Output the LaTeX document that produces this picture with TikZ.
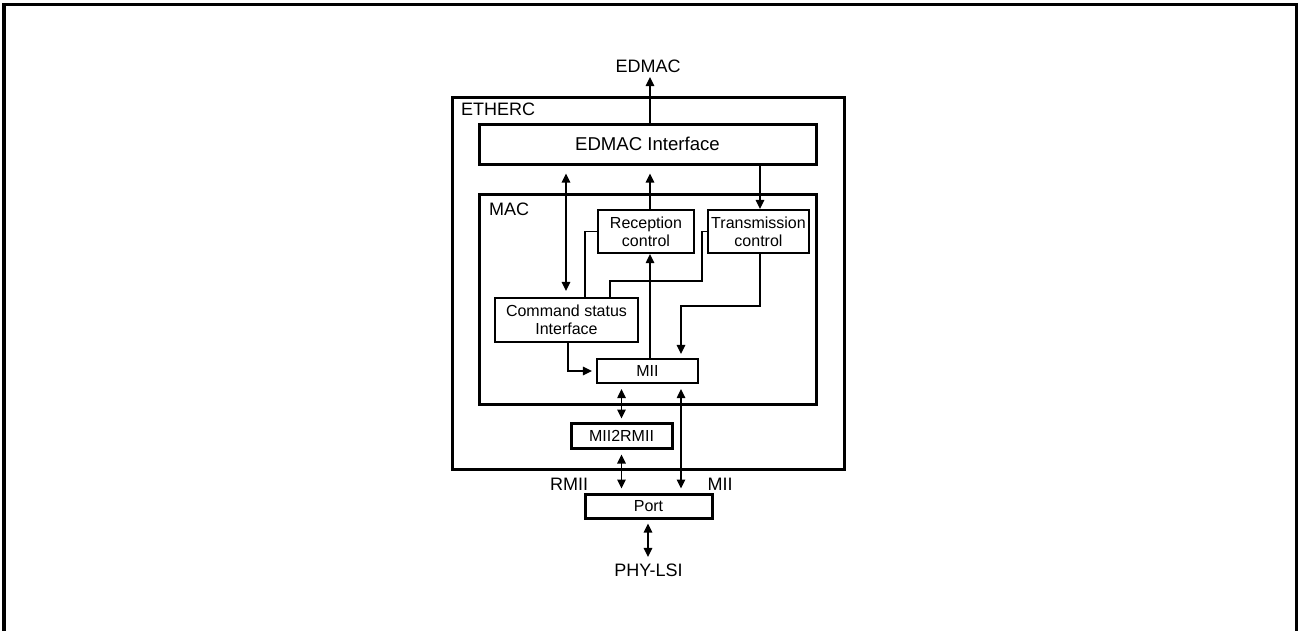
\documentclass[tikz,border=0pt]{standalone}
\usepackage{fontspec}
\setmainfont{Liberation Sans}
\usetikzlibrary{arrows.meta}
\begin{document}
\begin{tikzpicture}[x=1pt,y=-1pt,
  big/.style={font=\fontsize{18}{21}\selectfont},
  small/.style={font=\fontsize{16}{18}\selectfont},
  thickbox/.style={draw,line width=3pt,inner sep=0pt,small,align=center},
  thinbox/.style={draw,line width=2.2pt,inner sep=0pt,small,align=center},
  frame/.style={draw,line width=3pt,inner sep=0pt},
  lbl/.style={inner sep=0pt,big},
  conn/.style={line width=1.3pt},
  arr/.style={conn,-{Triangle[length=9pt,width=8.5pt]}},
  darr/.style={conn,{Triangle[length=9pt,width=8.5pt]}-{Triangle[length=9pt,width=8.5pt]}}]
\useasboundingbox (0,0) rectangle (1298,630);
\draw[line width=3.2pt] (4,640) -- (4,4.5) -- (1296.5,4.5) -- (1296.5,640);

% boxes
\node[frame,minimum width=392pt,minimum height=372pt] (etherc) at (648,283) {};
\node[lbl,anchor=west] (ethercl) at (461,109.5) {ETHERC};
\node[thickbox,font=\fontsize{18.6}{21}\selectfont,minimum width=337pt,minimum height=40pt] (ei) at (647.5,144) {EDMAC Interface};
\node[frame,minimum width=337pt,minimum height=210pt] (mac) at (647.5,299) {};
\node[lbl,anchor=west] (macl) at (489,209.5) {MAC};
\node[thinbox,minimum width=96pt,minimum height=43pt] (rc) at (646,231.5) {Reception\\control};
\node[thinbox,minimum width=101pt,minimum height=43pt] (tc) at (758.5,231.5) {Transmission\\control};
\node[thinbox,minimum width=143pt,minimum height=44pt] (cs) at (566.5,320) {Command status\\Interface};
\node[thinbox,minimum width=101pt,minimum height=24pt] (mii) at (647.5,371) {MII};
\node[thickbox,minimum width=101pt,minimum height=25pt] (m2r) at (621.5,435.5) {MII2RMII};
\node[thickbox,minimum width=127pt,minimum height=24pt] (port) at (648.5,506) {Port};

% outside labels
\node[lbl] (edmac) at (648,66.5) {EDMAC};
\node[lbl] (rmii) at (569,484) {RMII};
\node[lbl] (miil) at (720,484) {MII};
\node[lbl] (phy) at (648.5,570.5) {PHY-LSI};

% helper coordinates
\coordinate (xa) at (566,0);
\coordinate (xb) at (650,0);
\coordinate (xc) at (760,0);
\coordinate (xd) at (585,0);
\coordinate (xe) at (610,0);
\coordinate (xf) at (568,0);
\coordinate (xg) at (621.5,0);
\coordinate (xh) at (681,0);
\coordinate (xi) at (648,0);
\coordinate (k1) at (702,281);
\coordinate (k2) at (681,306);

% connectors
\draw[arr,shorten >=4pt] (ei.north -| xb) -- (edmac.south -| xb);
\draw[darr,shorten <=8pt,shorten >=6pt] (ei.south -| xa) -- (cs.north -| xa);
\draw[arr,shorten >=8pt] (rc.north -| xb) -- (ei.south -| xb);
\draw[arr] (ei.south -| xc) -- (tc.north -| xc);
\draw[conn] (cs.north -| xd) |- (rc.west);
\draw[conn] (cs.north -| xe) |- (k1) |- (tc.west);
\draw[arr] (mii.north -| xb) -- (rc.south -| xb);
\draw[arr,shorten >=4pt] (tc.south -| xc) |- (k2) -- (mii.north -| k2);
\draw[arr,shorten >=4pt] (cs.south -| xf) |- (mii.west);
\draw[darr,shorten <=5pt,shorten >=3pt] (mii.south -| xg) -- (m2r.north -| xg);
\draw[darr,shorten <=5pt,shorten >=4pt] (mii.south -| xh) -- (port.north -| xh);
\draw[darr,shorten <=5pt,shorten >=4pt] (m2r.south -| xg) -- (port.north -| xg);
\draw[darr,shorten <=4pt,shorten >=7pt] (port.south -| xi) -- (phy.north -| xi);
\end{tikzpicture}
\end{document}
